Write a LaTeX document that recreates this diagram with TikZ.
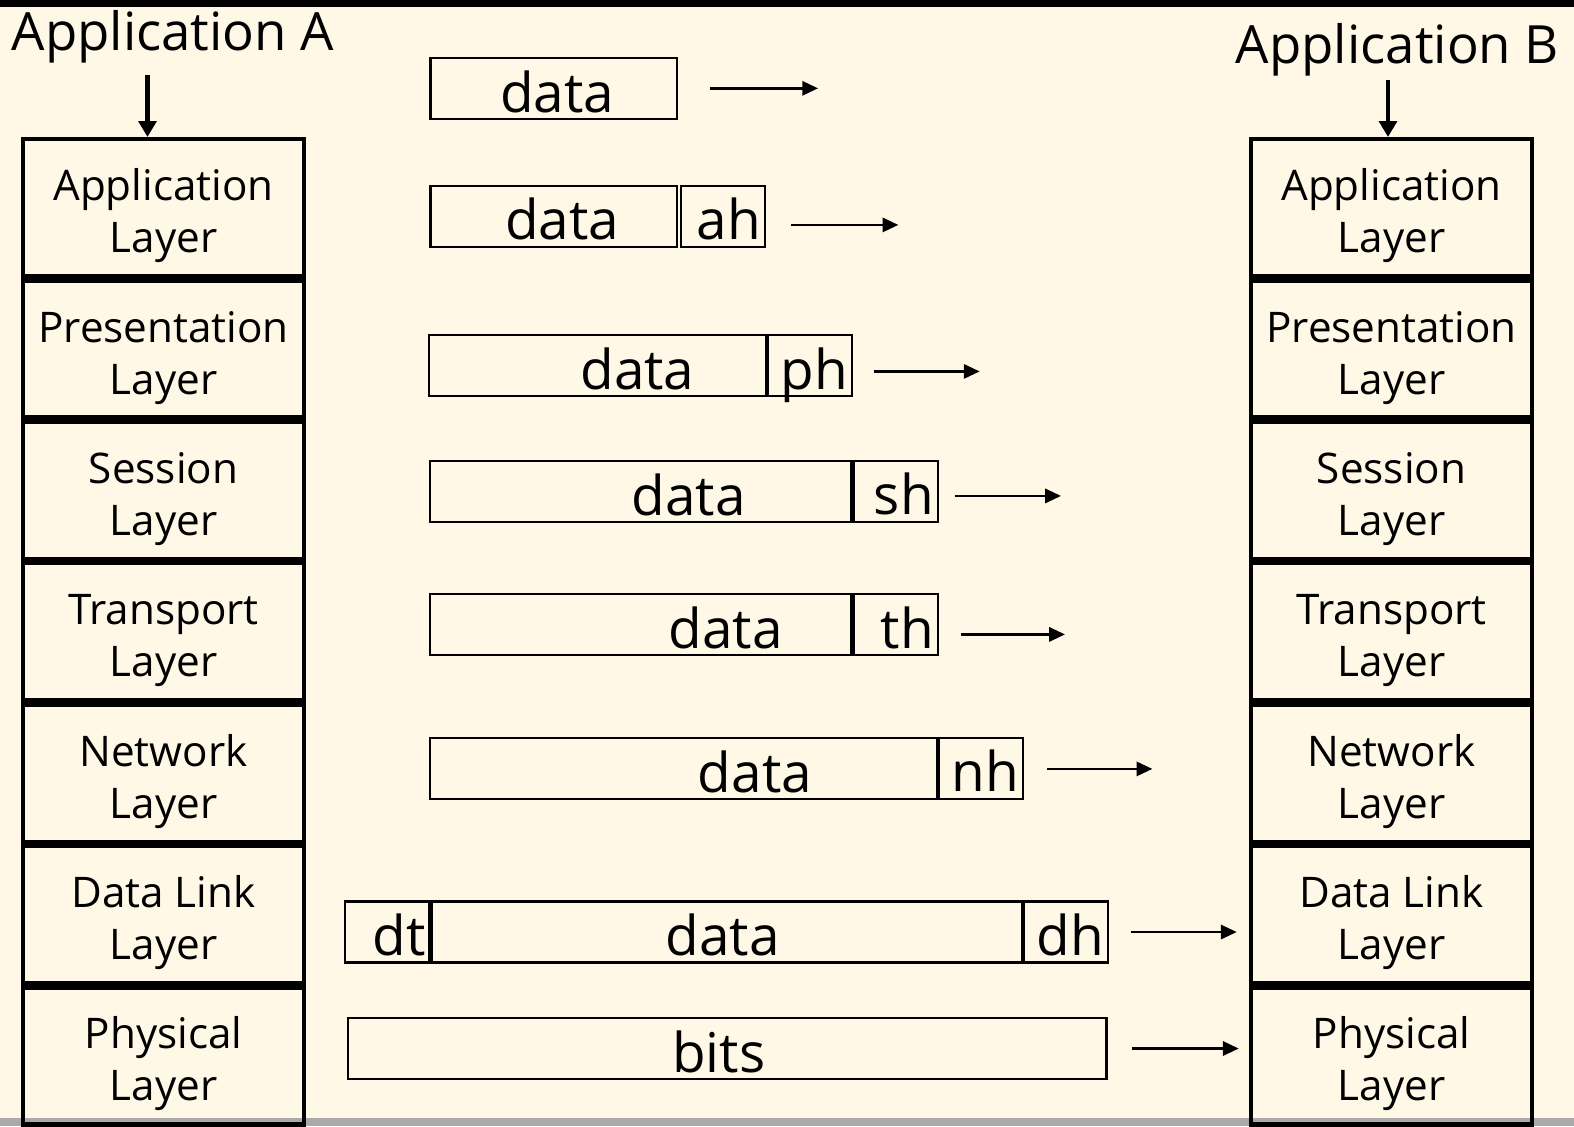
\documentclass[tikz,border=0pt]{standalone}
\usepackage{fontspec}
\setmainfont{Open Sans}
\usetikzlibrary{positioning, arrows.meta}

\definecolor{paper}{RGB}{255,248,231}
\definecolor{rulegray}{RGB}{170,170,170}

\tikzset{
  osi/.style={draw, line width=1.22pt, minimum width=2.81cm, minimum height=1.37cm,
    inner sep=0pt, align=center, text height=0.90cm, text depth=0pt,
    font=\fontsize{12}{14.8}\selectfont},
  pkt/.style={draw, line width=0.6pt, minimum height=0.61cm, inner ysep=0pt},
  hdr/.style={pkt, text width=0.76cm, inner xsep=0.04cm, align=right,
    text height=0.54cm, text depth=0.07cm, font=\fontsize{15.6}{18}\selectfont},
  word/.style={anchor=base, inner sep=0pt, font=\fontsize{15.6}{18}\selectfont},
  apptitle/.style={anchor=base, inner sep=0pt, font=\fontsize{15}{18}\selectfont},
  arr/.style={-{Triangle[length=4.5pt, width=4pt]}, line width=0.8pt},
  bigarr/.style={-{Triangle[length=4.5pt, width=5pt]}, line width=1.2pt},
}

\begin{document}
\begin{tikzpicture}[x=0.01cm, y=-0.01cm]
  % page %
  \useasboundingbox (0,0) rectangle (1574,1126);
  \fill[paper] (0,0) rectangle (1574,1126);
  \fill[black] (0,0) rectangle (1574,7);
  \fill[rulegray] (0,1118) rectangle (1574,1126);

  % sending stack %
  \node[apptitle] (nameA) at (173,50) {Application A};
  \node[osi] (appA) at (163.5,207.65) {Application\\Layer};
  \node[osi, below=0pt of appA] (preA) {Presentation\\Layer};
  \node[osi, below=0pt of preA] (sesA) {Session\\Layer};
  \node[osi, below=0pt of sesA] (traA) {Transport\\Layer};
  \node[osi, below=0pt of traA] (netA) {Network\\Layer};
  \node[osi, below=0pt of netA] (linkA) {Data Link\\Layer};
  \node[osi, below=0pt of linkA] (phyA) {Physical\\Layer};

  % receiving stack %
  \node[apptitle] (nameB) at (1397.5,63) {Application B};
  \node[osi] (appB) at (1391.5,207.65) {Application\\Layer};
  \node[osi, below=0pt of appB] (preB) {Presentation\\Layer};
  \node[osi, below=0pt of preB] (sesB) {Session\\Layer};
  \node[osi, below=0pt of sesB] (traB) {Transport\\Layer};
  \node[osi, below=0pt of traB] (netB) {Network\\Layer};
  \node[osi, below=0pt of netB] (linkB) {Data Link\\Layer};
  \node[osi, below=0pt of linkB] (phyB) {Physical\\Layer};

  \coordinate (fromA) at (147.5,75);
  \coordinate (fromB) at (1388,80);
  \draw[bigarr] (fromA) -- (fromA |- appA.north);
  \draw[bigarr] (fromB) -- (fromB |- appB.north);

  % packets %
  \node[pkt, minimum width=2.46cm] (d1) at (553.6,88.85) {};
  \node[word] (w1) at (557,112.5) {data};

  \node[pkt, minimum width=2.46cm] (d2) at (553.6,216.3) {};
  \node[word] (w2) at (562,239.9) {data};
  \node[hdr, right=0.02cm of d2] (ah) {ah};

  \node[pkt, minimum width=3.37cm] (d3) at (597.25,365.9) {};
  \node[word] (w3) at (637.4,389.5) {data};
  \node[hdr, right=0pt of d3] (ph) {ph};

  \node[pkt, minimum width=4.21cm] (d4) at (640.9,491.35) {};
  \node[word] (w4) at (688.6,515) {data};
  \node[hdr, right=0pt of d4] (sh) {sh};

  \node[pkt, minimum width=4.21cm] (d5) at (640.9,624.85) {};
  \node[word] (w5) at (725.7,648.5) {data};
  \node[hdr, right=0pt of d5] (th) {th};

  \node[pkt, minimum width=5.06cm] (d6) at (683.55,768.4) {};
  \node[word] (w6) at (754.9,792) {data};
  \node[hdr, right=0pt of d6] (nh) {nh};

  \node[pkt, minimum width=5.90cm] (d7) at (726.75,932) {};
  \node[word] (w7) at (722.7,955.6) {data};
  \node[hdr, left=0pt of d7] (dt) {dt};
  \node[hdr, right=0pt of d7] (dh) {dh};

  \node[pkt, minimum width=7.58cm] (d8) at (727.25,1048.5) {};
  \node[word] (w8) at (718.7,1072.1) {bits};

  % arrows %
  \coordinate (to1) at (818.1,88.3);
  \coordinate (to2) at (898.4,224.9);
  \coordinate (to3) at (979.7,371.4);
  \coordinate (to4) at (1061,495.9);
  \coordinate (to5) at (1065,634.4);
  \coordinate (to6) at (1152.4,768.9);
  \draw[arr, shorten <=0.32cm] (d1.east |- to1) -- (to1);
  \draw[arr, shorten <=0.25cm] (ah.east |- to2) -- (to2);
  \draw[arr, shorten <=0.21cm] (ph.east |- to3) -- (to3);
  \draw[arr, shorten <=0.16cm] (sh.east |- to4) -- (to4);
  \draw[arr, shorten <=0.22cm] (th.east |- to5) -- (to5);
  \draw[arr, shorten <=0.23cm] (nh.east |- to6) -- (to6);
  \draw[arr, shorten <=0.22cm, shorten >=0.12cm] (dh.east) -- (dh.east -| linkB.west);
  \draw[arr, shorten <=0.24cm, shorten >=0.10cm] (d8.east) -- (d8.east -| phyB.west);
\end{tikzpicture}
\end{document}
